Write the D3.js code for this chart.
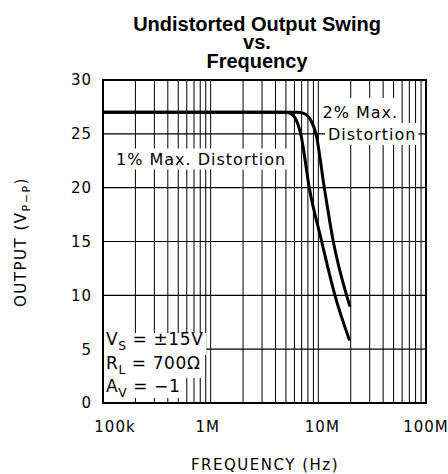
<!DOCTYPE html>
<html>
<head>
<meta charset="utf-8">
<script src="https://cdn.jsdelivr.net/npm/d3@7"></script>
<style>
  html, body { margin: 0; padding: 0; background: #fff; }
  svg { display: block; }
</style>
</head>
<body>
<svg id="chart" width="448" height="474"></svg>
<script>
// ---- data ----
const freq1 = [1e5, 2e6, 4.8e6, 5.5e6, 6.07e6, 6.86e6, 8.24e6, 10.74e6, 14.27e6, 19.5e6];
const out1  = [27,  27,  27,    26.9,  26.5,   25,     20,     15,      10,      5.8];
const freq2 = [1e5, 2e6, 6.4e6, 7.3e6, 8.07e6, 8.68e6, 9.51e6, 11.36e6, 13.77e6, 18.3e6, 19.7e6];
const out2  = [27,  27,  27,    26.9,  26.6,   26.1,   25,     20,      15,      10,     8.95];
const yTicks = [0, 5, 10, 15, 20, 25, 30];
const xTickValues = [1e5, 1e6, 1e7, 1e8];
const xTickLabels = ["100k", "1M", "10M", "100M"];
const titleLines = ["Undistorted Output Swing", "vs.", "Frequency"];

// ---- layout ----
const L = 103, R = 426, T = 80, B = 403;
const svg = d3.select("#chart");
const x = d3.scaleLog().domain([1e5, 1e8]).range([L, R]);
const y = d3.scaleLinear().domain([0, 30]).range([B, T]);
const mono = "'DejaVu Sans', sans-serif";

// title (one text element, three lines)
const titleDy = [0, 18, 19];
svg.append("text")
  .attr("x", 257).attr("y", 31)
  .attr("text-anchor", "middle")
  .attr("font-family", "'Liberation Sans', Arial, sans-serif")
  .attr("font-weight", "bold").attr("font-size", 20)
  .selectAll("tspan").data(titleLines).join("tspan")
  .attr("x", 257).attr("dy", (d, i) => titleDy[i])
  .text(d => d);

// grid
const grid = svg.append("g");
grid.selectAll("line.v").data(x.ticks()).join("line")
  .attr("x1", d => x(d)).attr("x2", d => x(d))
  .attr("y1", T).attr("y2", B)
  .attr("stroke", "#000").attr("stroke-width", 1);
grid.selectAll("line.h").data(yTicks.slice(1, -1)).join("line")
  .attr("x1", L).attr("x2", R)
  .attr("y1", d => y(d)).attr("y2", d => y(d))
  .attr("stroke", "#000").attr("stroke-width", 1.2);

// y tick labels
svg.append("g").selectAll("text").data(yTicks).join("text")
  .attr("x", 92).attr("y", d => y(d)).attr("dy", "0.36em")
  .attr("text-anchor", "end")
  .attr("font-family", mono).attr("font-size", 15).attr("letter-spacing", 1)
  .text(d => d);

// x tick labels
const xdx = [12, -3, 4, 0];
svg.append("g").selectAll("text").data(xTickValues).join("text")
  .attr("x", (d, i) => x(d) + xdx[i]).attr("y", 432)
  .attr("text-anchor", "middle")
  .attr("font-family", mono).attr("font-size", 15).attr("letter-spacing", 1)
  .text((d, i) => xTickLabels[i]);

// axis titles
svg.append("text")
  .attr("x", 265).attr("y", 470).attr("text-anchor", "middle")
  .attr("font-family", mono).attr("font-size", 15).attr("letter-spacing", 1.5)
  .text("FREQUENCY (Hz)");

const yt = svg.append("text")
  .attr("transform", "translate(26,242) rotate(-90)")
  .attr("text-anchor", "middle")
  .attr("font-family", mono).attr("font-size", 15).attr("letter-spacing", 1.5);
yt.append("tspan").text("OUTPUT (V");
yt.append("tspan").attr("font-size", 11).attr("dy", 4).text("P−P");
yt.append("tspan").attr("dy", -4).text(")");

// labels with white backgrounds
function boxedText(lines, font, size, spacing, pad) {
  const g = svg.append("g");
  lines.forEach(l => {
    const bg = g.append("rect").attr("fill", "#fff");
    const t = g.append("text").attr("x", l.x).attr("y", l.y)
      .attr("font-family", font).attr("font-size", size).attr("letter-spacing", spacing);
    l.parts.forEach(p => {
      const ts = t.append("tspan").text(p.t);
      if (p.sub) ts.attr("font-size", size * 0.72).attr("dy", 5);
      if (p.up) ts.attr("dy", -5);
    });
    const bb = t.node().getBBox();
    const top = l.top !== undefined ? l.top : bb.y - pad[1];
    const bottom = l.bottom !== undefined ? l.bottom : bb.y + bb.height + pad[1];
    bg.attr("x", bb.x - pad[0]).attr("y", top)
      .attr("width", bb.width + pad[0] + pad[2])
      .attr("height", bottom - top);
  });
}

boxedText([{x: 116, y: 164.5, parts: [{t: "1% Max. Distortion"}]}], mono, 16, 1, [4, 1, 2]);
boxedText([
  {x: 322.5, y: 118, parts: [{t: "2% Max."}], top: 98, bottom: 123},
  {x: 328, y: 139.5, parts: [{t: "Distortion"}], top: 123, bottom: 145}
], mono, 16, 1, [3, 2, 2]);

boxedText([
  {x: 106, y: 345, parts: [{t: "V"}, {t: "S", sub: true}, {t: " = ±15V", up: true}], top: 333, bottom: 355},
  {x: 106, y: 368.5, parts: [{t: "R"}, {t: "L", sub: true}, {t: " = 700Ω", up: true}], top: 355, bottom: 378},
  {x: 106, y: 392, parts: [{t: "A"}, {t: "V", sub: true}, {t: " = −1", up: true}], top: 378, bottom: 398}
], mono, 17, 0.6, [4, 2, 3]);

// curves
const line = d3.line().x(d => x(d[0])).y(d => y(d[1])).curve(d3.curveMonotoneX);
svg.append("path").datum(d3.zip(freq1, out1)).attr("d", line)
  .attr("fill", "none").attr("stroke", "#000").attr("stroke-width", 3);
svg.append("path").datum(d3.zip(freq2, out2)).attr("d", line)
  .attr("fill", "none").attr("stroke", "#000").attr("stroke-width", 3);

// frame
svg.append("rect").attr("x", L).attr("y", T).attr("width", R - L).attr("height", B - T)
  .attr("fill", "none").attr("stroke", "#000").attr("stroke-width", 2);
</script>
</body>
</html>
